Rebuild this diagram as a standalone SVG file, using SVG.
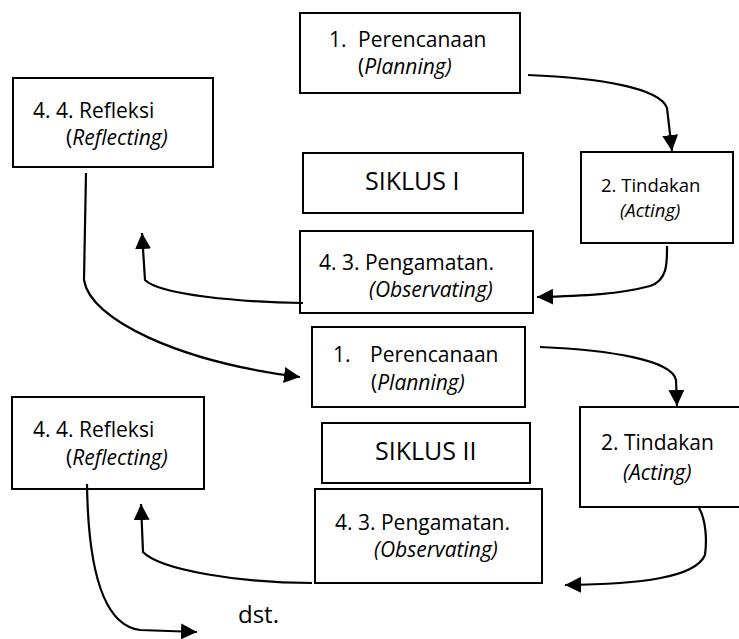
<svg xmlns="http://www.w3.org/2000/svg" width="739" height="639" viewBox="0 0 739 639">
<style>
.box{fill:#fff;stroke:#000;stroke-width:2}
.t{font-family:"Open Sans","Liberation Sans",sans-serif;font-size:21px;fill:#000}
.s{font-size:18.5px}
.big{font-size:25px}
.d{font-size:24px}
.i{font-style:italic}
.c{fill:none;stroke:#000;stroke-width:2.2}
</style>
<defs>
<marker id="ah" markerUnits="userSpaceOnUse" markerWidth="18" markerHeight="18" refX="16" refY="8" orient="auto">
<path d="M0,0 L16,8 L0,16 Z" fill="#000"/>
</marker>
</defs>
<g id="p1"><rect class="box" x="300" y="13" width="220" height="80"/><text class="t" x="329" y="47">1.</text><text class="t" x="358" y="47">Perencanaan</text><text class="t" x="358" y="74">(<tspan class="i">Planning)</tspan></text></g>
<g id="r1"><rect class="box" x="13" y="78" width="200" height="89"/><text class="t" x="33" y="118">4. 4. Refleksi</text><text class="t" x="66" y="145">(<tspan class="i">Reflecting)</tspan></text></g>
<g id="s1"><rect class="box" x="303" y="153" width="220" height="60"/><text class="t big" x="365" y="190">SIKLUS I</text></g>
<g id="a1"><rect class="box" x="581" y="152" width="152" height="91"/><text class="t s" x="601" y="192">2. Tindakan</text><text class="t s i" x="620" y="217">(Acting)</text></g>
<g id="o1"><rect class="box" x="300" y="231" width="233" height="82"/><text class="t" x="319" y="270">4. 3. Pengamatan.</text><text class="t i" x="369" y="297">(Observating)</text></g>
<g id="p2"><rect class="box" x="312" y="327" width="213" height="80"/><text class="t" x="333" y="362">1.</text><text class="t" x="370" y="362">Perencanaan</text><text class="t" x="371" y="390">(<tspan class="i">Planning)</tspan></text></g>
<g id="r2"><rect class="box" x="12" y="397" width="192" height="92"/><text class="t" x="33" y="437">4. 4. Refleksi</text><text class="t" x="66" y="465">(<tspan class="i">Reflecting)</tspan></text></g>
<g id="s2"><rect class="box" x="322" y="423" width="208" height="60"/><text class="t big" x="375" y="460">SIKLUS II</text></g>
<g id="a2"><rect class="box" x="580" y="407" width="162" height="100"/><text class="t" x="601" y="450">2. Tindakan</text><text class="t i" x="623" y="480">(Acting)</text></g>
<g id="o2"><rect class="box" x="315" y="489" width="227" height="94"/><text class="t" x="335" y="530">4. 3. Pengamatan.</text><text class="t i" x="374" y="557">(Observating)</text></g>
<g id="end"><text class="t d" x="238" y="623">dst.</text></g>
<g id="connectors">
<path class="c" d="M528,75 C600,78 660,88 667,108 L672,151" marker-end="url(#ah)"/>
<path class="c" d="M667,246 C667,262 668,280 650,286 C620,294 585,296 537,297" marker-end="url(#ah)"/>
<path class="c" d="M303,303 C240,302 160,295 145,280 L142,233" marker-end="url(#ah)"/>
<path class="c" d="M86,173 L84,280 C90,320 180,362 300,377" marker-end="url(#ah)"/>
<path class="c" d="M540,347 C610,350 672,360 676,380 L677,406" marker-end="url(#ah)"/>
<path class="c" d="M699,508 C706,520 707,540 705,555 C695,578 640,584 565,585" marker-end="url(#ah)"/>
<path class="c" d="M312,583 C240,583 160,570 143,552 L141,504" marker-end="url(#ah)"/>
<path class="c" d="M87,484 C88,560 100,625 140,630 L197,632" marker-end="url(#ah)"/>
</g>
</svg>
